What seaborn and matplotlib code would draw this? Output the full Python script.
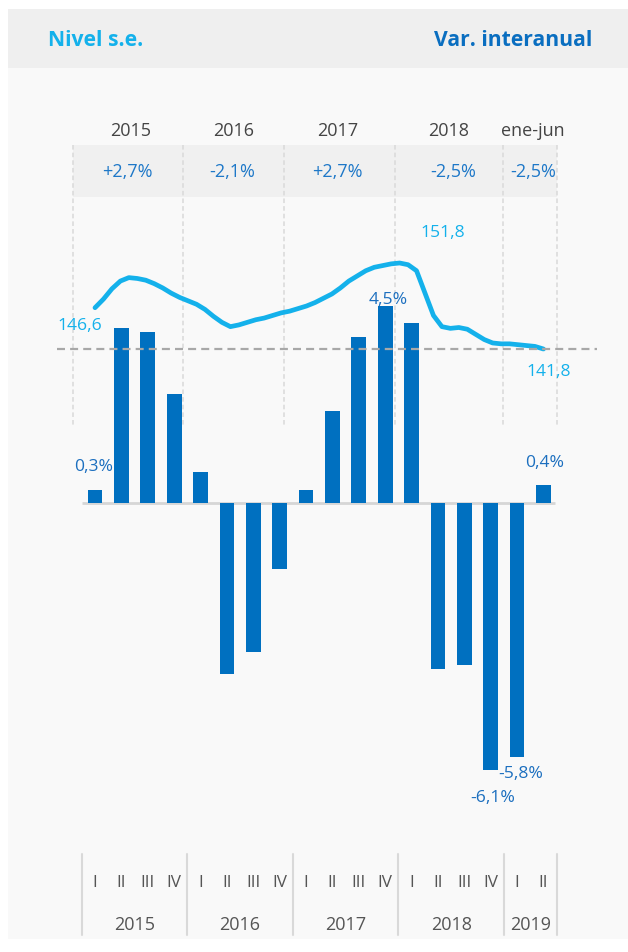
import numpy as np
import pandas as pd
import matplotlib
matplotlib.use("Agg")
import matplotlib.pyplot as plt
import seaborn as sns
from matplotlib.transforms import Affine2D, blended_transform_factory
from matplotlib.patches import Rectangle
from matplotlib.lines import Line2D

# ---------------- data ----------------
bar_years = ["2015"] * 4 + ["2016"] * 4 + ["2017"] * 4 + ["2018"] * 4 + ["2019"] * 2
bar_quarters = ["I", "II", "III", "IV"] * 4 + ["I", "II"]
var_interanual = [0.3, 4.0, 3.9, 2.5, 0.7, -3.9, -3.4, -1.5, 0.3,
                  2.1, 3.8, 4.5, 4.1, -3.8, -3.7, -6.1, -5.8, 0.4]

# monthly seasonally adjusted level, Jan 2015 - Jun 2019
nivel_se = [146.6, 147.6, 148.8, 149.7, 150.1, 150.0, 149.8, 149.4, 148.9, 148.3, 147.8, 147.4,
            147.0, 146.4, 145.6, 144.9, 144.4, 144.6, 144.9, 145.2, 145.4, 145.7, 146.0, 146.2,
            146.5, 146.8, 147.2, 147.7, 148.2, 148.9, 149.7, 150.3, 150.9, 151.3, 151.5, 151.7,
            151.8, 151.6, 150.9, 148.3, 145.7, 144.4, 144.2, 144.3, 144.1, 143.5, 142.9, 142.5,
            142.4, 142.4, 142.3, 142.2, 142.1, 141.8]

top_labels = ["2015", "2016", "2017", "2018", "ene-jun"]
top_var = ["+2,7%", "-2,1%", "+2,7%", "-2,5%", "-2,5%"]
bottom_years = ["2015", "2016", "2017", "2018", "2019"]

# ---------------- style ----------------
W, H = 628, 953
DARK = "#0070c0"
LIGHT = "#14b1eb"
TXT = "#444444"
FONT = ["Open Sans", "DejaVu Sans"]

sns.set_theme(style="white")
plt.rcParams["font.family"] = FONT

fig = plt.figure(figsize=(W / 100, H / 100), dpi=100, facecolor="white")
pix = Affine2D().scale(1 / W, -1 / H).translate(0, 1) + fig.transFigure

# backgrounds
fig.add_artist(Rectangle((8, 10), W - 8, 930, transform=pix, facecolor="#f9f9f9",
                         edgecolor="none", zorder=-5))
fig.add_artist(Rectangle((8, 10), W - 8, 59, transform=pix, facecolor="#efefef",
                         edgecolor="none", zorder=-4))
fig.add_artist(Rectangle((73, 146), 484, 52, transform=pix, facecolor="#f0f0f0",
                         edgecolor="none", zorder=-3))

# headers
fig.text(48, 40, "Nivel s.e.", transform=pix, color=LIGHT, fontsize=15.2,
         fontweight="bold", ha="left", va="center")
fig.text(592, 40, "Var. interanual", transform=pix, color="#0a6ec0", fontsize=15.2,
         fontweight="bold", ha="right", va="center")

# top band labels
for x, s in zip([131, 234, 338, 449, 533], top_labels):
    fig.text(x, 131, s, transform=pix, color=TXT, fontsize=13, ha="center", va="center")
for x, s in zip([127, 232, 337, 453, 533], top_var):
    fig.text(x, 172, s, transform=pix, color="#1e78c8", fontsize=13, ha="center", va="center")
for x in [73, 183, 284, 395, 503, 557]:
    fig.add_artist(Line2D([x, x], [146, 426], transform=pix, color="#d9d9d9", lw=1.1,
                          linestyle=(0, (3, 2)), zorder=-2))

# ---------------- main axes ----------------
x0, step = 95.0, 26.38          # pixel position of first bar and bar spacing
y0, kp = 504.0, 43.8             # pixel of zero and px per percent
ax = fig.add_axes([0, 0, 1, 1])
ax.patch.set_visible(False)

df = pd.DataFrame({"periodo": [f"{y} {q}" for y, q in zip(bar_years, bar_quarters)],
                   "var": var_interanual})
ax.hlines(0, -0.5, 17.45, color="#d6d6d6", lw=2, zorder=0.5)
sns.barplot(data=df, x="periodo", y="var", color=DARK, saturation=1, width=0.56,
            ax=ax, zorder=2, edgecolor="none")
ax.set_xlim(-x0 / step, (W - x0) / step)
ax.set_ylim(-(H - y0) / kp, y0 / kp)
ax.axis("off")

# level line on twin axis
ax2 = ax.twinx()
ax2.patch.set_visible(False)
months = np.arange(len(nivel_se)) * (len(var_interanual) - 1) / (len(nivel_se) - 1)
sns.lineplot(x=months, y=nivel_se, ax=ax2, color=LIGHT, lw=3.4,
             solid_capstyle="round", solid_joinstyle="round", zorder=3)
ref_px, kl = 350.0, 8.6
ax2.set_ylim(nivel_se[-1] - (H - ref_px) / kl, nivel_se[-1] + ref_px / kl)
ax2.set_xlim(ax.get_xlim())
ax2.hlines(nivel_se[-1], (57 - x0) / step, (597 - x0) / step, colors="#a8a8a8",
           linestyles=(0, (3.6, 2.3)), lw=1.6, zorder=4)
ax2.axis("off")

# data labels
def fmt(v, pct=True):
    s = f"{v:.1f}".replace(".", ",")
    return s + "%" if pct else s

bar_lab = {0: (-1, 24), 11: (3, 7), 15: (2, -27), 16: (3.5, -16), 17: (1.5, 23)}
for i, (dx, dy) in bar_lab.items():
    ax.annotate(fmt(var_interanual[i]), xy=(i, var_interanual[i]), xytext=(dx, dy),
                textcoords="offset pixels", ha="center", va="center",
                color="#1c6fbf", fontsize=12.6, zorder=6)

imax = int(np.argmax(nivel_se))
line_lab = {0: (-15, -17), imax: (43, 31), len(nivel_se) - 1: (5.5, -22)}
for i, (dx, dy) in line_lab.items():
    ax2.annotate(fmt(nivel_se[i], False), xy=(months[i], nivel_se[i]), xytext=(dx, dy),
                 textcoords="offset pixels", ha="center", va="center",
                 color=LIGHT, fontsize=12.6, zorder=6)

# bottom axis labels
bt = blended_transform_factory(ax.transData, pix)
for i, q in enumerate(bar_quarters):
    ax.text(i, 883, q, transform=bt, ha="center", va="center", color="#555555", fontsize=12.3)
starts = [0, 4, 8, 12, 16]
ends = [4, 8, 12, 16, 18]
for s, e, y in zip(starts, ends, bottom_years):
    ax.text((s + e - 1) / 2, 925, y, transform=bt, ha="center", va="center",
            color="#555555", fontsize=13)
for b in [-0.5, 3.5, 7.5, 11.5, 15.5, 17.5]:
    ax.add_line(Line2D([b, b], [855, 936], transform=bt, color="#d9d9d9", lw=1.5))

fig.savefig("out.png", dpi=100, facecolor="white")
